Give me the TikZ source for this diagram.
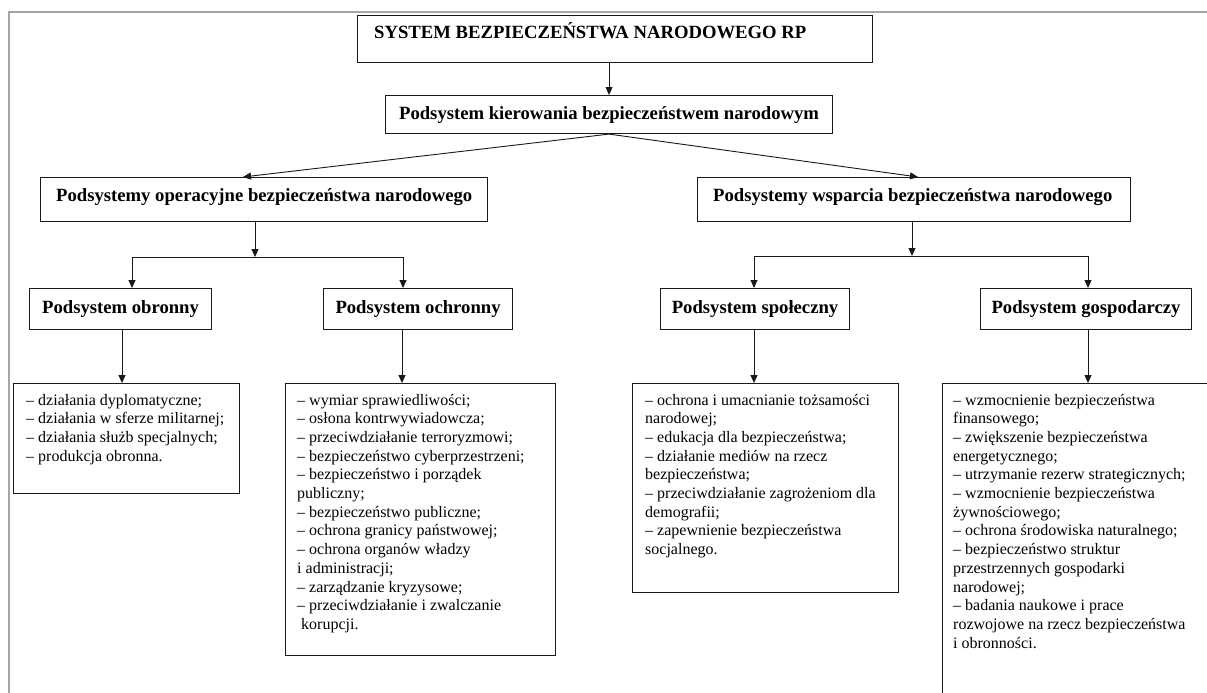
\documentclass[tikz,border=0pt]{standalone}
\usepackage{fontspec}
\setmainfont{Liberation Serif}
\usetikzlibrary{arrows.meta,calc}
\begin{document}
\begin{tikzpicture}[x=1pt,y=-1pt,
  frame/.style={draw=black!90, line width=1.1pt, inner sep=0pt, anchor=north west},
  ttl/.style={font=\fontsize{18.67}{22}\selectfont\bfseries, inner sep=0pt},
  lst/.style={font=\fontsize{16}{18.7}\selectfont, inner sep=0pt, anchor=base west},
  arr/.style={-{Triangle[length=8pt,width=7pt]}, line width=0.9pt, draw=black!90},
  ln/.style={line width=0.9pt, draw=black!90}]
\clip (0,0) rectangle (1207,693);
\useasboundingbox (0,0) rectangle (1207,693);
% outer grey border
\draw[black!35, line width=1.5pt] (9,693) -- (9,12) -- (1207,12);

% top levels
\node[frame, minimum width=515pt, minimum height=47pt] (b1) at (357,15) {};
\node[ttl, anchor=base west] (b1t) at (374,39) {SYSTEM BEZPIECZEŃSTWA NARODOWEGO RP};
\node[frame, ttl, minimum width=447pt, minimum height=38pt] (b2) at (385,95) {Podsystem kierowania bezpieczeństwem narodowym};

\node[frame, minimum width=447pt, minimum height=44pt] (b3) at (40,177) {};
\node[ttl, anchor=base west] (b3t) at (56,201) {Podsystemy operacyjne bezpieczeństwa narodowego};
\node[frame, minimum width=433pt, minimum height=44pt] (b4) at (697,177) {};
\node[ttl, anchor=base west] (b4t) at (713,201) {Podsystemy wsparcia bezpieczeństwa narodowego};

% subsystem boxes
\node[frame, ttl, minimum width=182pt, minimum height=41pt] (ob) at (29,288) {Podsystem obronny};
\node[frame, ttl, minimum width=189pt, minimum height=41pt] (och) at (323,288) {Podsystem ochronny};
\node[frame, ttl, minimum width=189pt, minimum height=41pt] (sp) at (660,288) {Podsystem społeczny};
\node[frame, ttl, minimum width=211pt, minimum height=41pt] (go) at (980,288) {Podsystem gospodarczy};

% list frames
\node[frame, minimum width=226pt, minimum height=110pt] (l1) at (13,383) {};
\node[frame, minimum width=270pt, minimum height=272pt] (l2) at (285,383) {};
\node[frame, minimum width=266pt, minimum height=209pt] (l3) at (632,383) {};
\node[frame, minimum width=300pt, minimum height=360pt] (l4) at (942,383) {};

% list texts
\node[lst] (l1t) at (26,405) {\parbox[t]{220pt}{\raggedright
– działania dyplomatyczne;\\
– działania w sferze militarnej;\\
– działania służb specjalnych;\\
– produkcja obronna.}};
\node[lst] (l2t) at (297,405) {\parbox[t]{260pt}{\raggedright
– wymiar sprawiedliwości;\\
– osłona kontrwywiadowcza;\\
– przeciwdziałanie terroryzmowi;\\
– bezpieczeństwo cyberprzestrzeni;\\
– bezpieczeństwo i porządek\\
publiczny;\\
– bezpieczeństwo publiczne;\\
– ochrona granicy państwowej;\\
– ochrona organów władzy\\
i administracji;\\
– zarządzanie kryzysowe;\\
– przeciwdziałanie i zwalczanie\\
\hspace*{4pt}korupcji.}};
\node[lst] (l3t) at (645,405) {\parbox[t]{260pt}{\raggedright
– ochrona i umacnianie tożsamości\\
narodowej;\\
– edukacja dla bezpieczeństwa;\\
– działanie mediów na rzecz\\
bezpieczeństwa;\\
– przeciwdziałanie zagrożeniom dla\\
demografii;\\
– zapewnienie bezpieczeństwa\\
socjalnego.}};
\node[lst] (l4t) at (953,405) {\parbox[t]{260pt}{\raggedright
– wzmocnienie bezpieczeństwa\\
finansowego;\\
– zwiększenie bezpieczeństwa\\
energetycznego;\\
– utrzymanie rezerw strategicznych;\\
– wzmocnienie bezpieczeństwa\\
żywnościowego;\\
– ochrona środowiska naturalnego;\\
– bezpieczeństwo struktur\\
przestrzennych gospodarki\\
narodowej;\\
– badania naukowe i prace\\
rozwojowe na rzecz bezpieczeństwa\\
i obronności.}};

% connectors
\draw[arr] (b2.north |- b1.south) -- (b2.north);
\draw[arr] (b2.south) -- ($(b3.north west)+(203,0)$);
\draw[arr] (b2.south) -- ($(b4.north west)+(221,0)$);

\coordinate (j3) at (255,257);
\coordinate (j4) at (912,256);
\draw[arr] (b3.south -| j3) -- (j3);
\draw[arr] (b4.south -| j4) -- (j4);
\draw[arr] (j3) -| ($(ob.north west)+(103,0)$);
\draw[arr] (j3) -| ($(och.north west)+(80,0)$);
\draw[arr] (j4) -| ($(sp.north west)+(94,0)$);
\draw[arr] (j4) -| ($(go.north west)+(108,0)$);

\draw[arr] ($(ob.south west)+(93,0)$) -- ($(l1.north west)+(109,0)$);
\draw[arr] ($(och.south west)+(79,0)$) -- ($(l2.north west)+(117,0)$);
\draw[arr] ($(sp.south west)+(94,0)$) -- ($(l3.north west)+(122,0)$);
\draw[arr] ($(go.south west)+(108,0)$) -- ($(l4.north west)+(146,0)$);
\end{tikzpicture}
\end{document}
